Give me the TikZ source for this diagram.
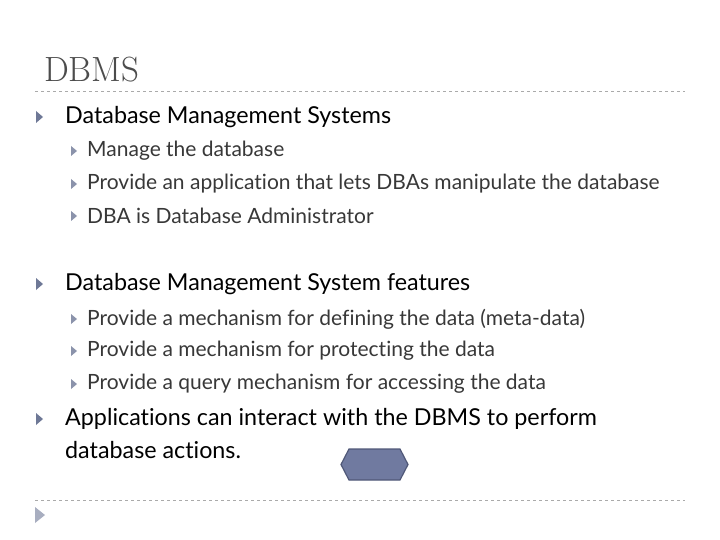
\documentclass[tikz,border=0pt]{standalone}
\usepackage{fontspec}
\setmainfont{Lato}[Ligatures={NoCommon,NoDiscretionary}]
\definecolor{tri}{RGB}{110,120,150}
\definecolor{hexfill}{RGB}{112,122,160}
\definecolor{hexline}{RGB}{80,88,120}
\definecolor{dashgray}{RGB}{170,170,170}
\begin{document}
\begin{tikzpicture}[x=1pt,y=-1pt,
  lvl1/.style={anchor=west,font=\fontsize{23.3}{27}\selectfont,text=black,inner sep=0},
  lvl2/.style={anchor=west,font=\fontsize{21}{25}\selectfont,text=black!78,inner sep=0}]
\useasboundingbox[fill=white] (0,0) rectangle (720,540);
\node[anchor=west,inner sep=0,font=\fontsize{35}{38}\selectfont\rmfamily\fontspec{Latin Modern Roman},text=black!70] (title) at (44,70) {DBMS};
\draw[dashgray,dashed] (35,91) -- (685,91);
\draw[dashgray,dashed] (35,500) -- (685,500);
\foreach \y in {117,284,419}{\fill[tri] (36,\y-6) -- (43,\y) -- (36,\y+6) -- cycle;}
\foreach \y in {151,184,216,319,351,384}{\fill[tri!80] (71,\y-5) -- (77,\y) -- (71,\y+5) -- cycle;}
\node[lvl1] (a) at (65,117) {Database Management Systems};
\node[lvl2] (a1) at (87,151) {Manage the database};
\node[lvl2] (a2) at (87,184) {Provide an application that lets DBAs manipulate the database};
\node[lvl2] (a3) at (87,216) {DBA is Database Administrator};
\node[lvl1] (b) at (65,284) {Database Management System features};
\node[lvl2] (b1) at (87,319) {Provide a mechanism for defining the data (meta-data)};
\node[lvl2] (b2) at (87,351) {Provide a mechanism for protecting the data};
\node[lvl2] (b3) at (87,384) {Provide a query mechanism for accessing the data};
\node[lvl1] (c) at (65,419) {Applications can interact with the DBMS to perform};
\node[lvl1] (c2) at (65,450) {database actions.};
\fill[hexfill,draw=hexline,line width=1.2pt] (341,464.5) -- (349,449) -- (400,449) -- (408,464.5) -- (400,480) -- (349,480) -- cycle;
\fill[tri!60] (35,507) -- (45,515) -- (35,523) -- cycle;
\end{tikzpicture}
\end{document}
